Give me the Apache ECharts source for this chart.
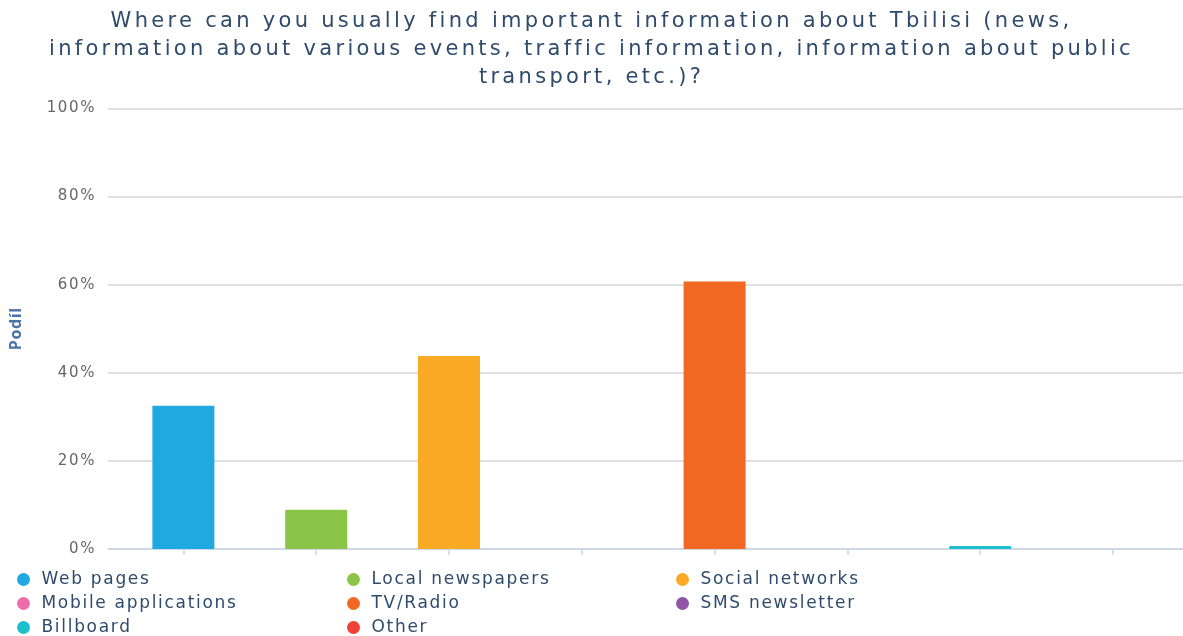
<!DOCTYPE html>
<html>
<head>
<meta charset="utf-8">
<script src="https://cdn.jsdelivr.net/npm/echarts@6/dist/echarts.min.js"></script>
<style>
html,body{margin:0;padding:0;background:#fff;}
#chart{width:1183px;height:636px;}
</style>
</head>
<body>
<div id="chart"></div>
<script>
const titleText = 'Where can you usually find important information about Tbilisi (news,\ninformation about various events, traffic information, information about public\ntransport, etc.)?';
const categories = ['Web pages', 'Local newspapers', 'Social networks', 'Mobile applications', 'TV/Radio', 'SMS newsletter', 'Billboard', 'Other'];
const values = [32.5, 8.9, 43.8, 0, 60.7, 0, 0.7, 0];
const colors = ['#20a9e1', '#8bc547', '#fbaa26', '#ec6fab', '#f16724', '#9056a5', '#1ec0cf', '#ef4136'];
const yTicks = [0, 20, 40, 60, 80, 100];
const yAxisName = 'Podíl';
const legendCol1 = ['Web pages', 'Mobile applications', 'Billboard'];
const legendCol2 = ['Local newspapers', 'TV/Radio', 'Other'];
const legendCol3 = ['Social networks', 'SMS newsletter'];

// letter spacing by font size (the reference text is tracked out)
const spacingBySize = {'21': '3.3px', '17': '1.7px', '15': '1.6px', '16': '0.6px'};
(function () {
  const proto = CanvasRenderingContext2D.prototype;
  const orig = proto.fillText;
  proto.fillText = function (t, x, y, w) {
    const m = /(\d+(?:\.\d+)?)px/.exec(this.font || '');
    const sp = m ? spacingBySize[m[1]] : null;
    if (sp && 'letterSpacing' in this) {
      const prev = this.letterSpacing;
      this.letterSpacing = sp;
      const r = w === undefined ? orig.call(this, t, x, y) : orig.call(this, t, x, y, w);
      this.letterSpacing = prev;
      return r;
    }
    return w === undefined ? orig.call(this, t, x, y) : orig.call(this, t, x, y, w);
  };
})();

const chart = echarts.init(document.getElementById('chart'));
const TOP = 108.5, BOTTOM = 87;
const legendBase = {
  orient: 'vertical', top: 571, height: 70, itemGap: 7, icon: 'circle', itemWidth: 14, itemHeight: 13, padding: 0,
  textStyle: {fontFamily: 'DejaVu Sans', fontSize: 17, lineHeight: 17, color: '#2f4b6c', padding: [0, 0, 0, 6]},
  selectedMode: false
};
const series = categories.map((c, i) => ({
  name: c, type: 'bar', xAxisIndex: 1, yAxisIndex: 1,
  barWidth: 62, barGap: '-100%',
  itemStyle: {color: colors[i], borderWidth: 0},
  data: categories.map((_, j) => j === i ? values[i] : '-')
}));
chart.setOption({
  animation: false,
  title: {
    text: titleText, left: 'center', top: 3, padding: [5, 0, 5, 12],
    textStyle: {fontFamily: 'DejaVu Sans', fontWeight: 'normal', fontSize: 21, color: '#2f4b6c', lineHeight: 28}
  },
  legend: [
    Object.assign({}, legendBase, {left: 17, data: legendCol1}),
    Object.assign({}, legendBase, {left: 347, data: legendCol2}),
    Object.assign({}, legendBase, {left: 676, data: legendCol3})
  ],
  grid: [
    {left: 108, right: 0, top: TOP, bottom: BOTTOM},
    {left: 117, right: 3.6, top: TOP, bottom: BOTTOM}
  ],
  xAxis: [
    {gridIndex: 0, type: 'value', min: 0, max: 1, axisLabel: {show: false}, axisTick: {show: false}, splitLine: {show: false},
     axisLine: {show: true, lineStyle: {color: '#ccd6eb', width: 1.5}}},
    {gridIndex: 1, type: 'category', data: categories, axisLabel: {show: false}, axisLine: {show: false},
     axisTick: {show: true, alignWithLabel: true, length: 6, lineStyle: {color: '#ccd6eb', width: 1.5}}}
  ],
  yAxis: [
    {gridIndex: 0, type: 'value', min: 0, max: 100, interval: 20,
     name: yAxisName, nameLocation: 'middle', nameGap: 84, nameRotate: 90,
     nameTextStyle: {fontFamily: 'Open Sans', fontSize: 16, fontWeight: 'bold', color: '#4a72a8'},
     axisLabel: {formatter: '{value}%', fontFamily: 'DejaVu Sans', fontSize: 15, color: '#666', margin: 12},
     axisLine: {show: false}, axisTick: {show: false},
     splitLine: {show: true, lineStyle: {color: '#d4d4d4', width: 1.5}}},
    {gridIndex: 1, type: 'value', min: 0, max: 100, show: false, splitLine: {show: false}}
  ],
  series: series
});
</script>
</body>
</html>
